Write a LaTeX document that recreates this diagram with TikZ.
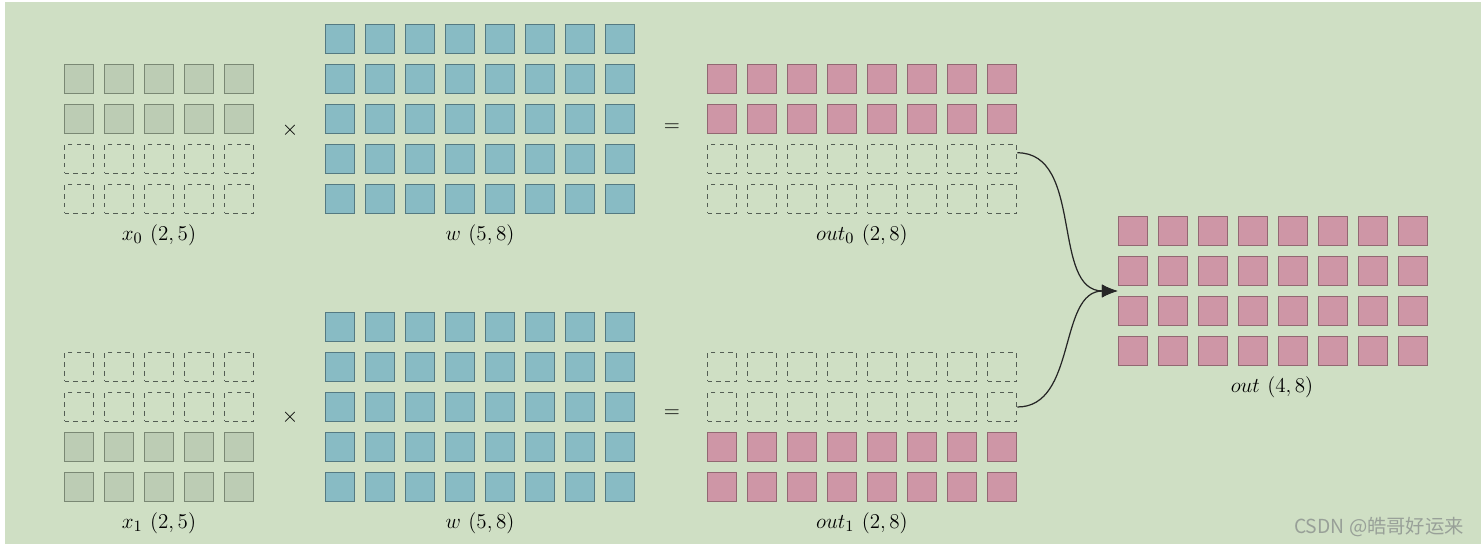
\documentclass[tikz,border=0pt]{standalone}
\usepackage{amsmath}
\usepackage{fontspec}
\usepackage{tikz}
\usetikzlibrary{arrows.meta,positioning,calc,backgrounds}
\newfontfamily\cjkfont{Noto Sans CJK SC}
\definecolor{bggreen}{RGB}{207,223,196}
\definecolor{xfill}{RGB}{188,204,180}
\definecolor{xline}{RGB}{122,136,116}
\definecolor{wfill}{RGB}{136,187,196}
\definecolor{wline}{RGB}{84,122,130}
\definecolor{ofill}{RGB}{206,150,166}
\definecolor{oline}{RGB}{146,104,114}
\definecolor{padline}{RGB}{84,94,84}
\definecolor{markgray}{RGB}{152,160,152}

\begin{document}
\begin{tikzpicture}[x=0.02cm, y=-0.02cm, >=Stealth,
			cell/.style={rectangle, minimum size=0.58cm, inner sep=0pt, line width=0.9pt},
			xcell/.style={cell, fill=xfill, draw=xline},
			wcell/.style={cell, fill=wfill, draw=wline},
			ocell/.style={cell, fill=ofill, draw=oline},
			padcell/.style={cell, draw=padline, line width=1pt, dash pattern=on 2.6pt off 2.4pt},
			dimlabel/.style={draw=none, inner sep=1pt, font=\fontsize{13}{15}\selectfont},
			opsign/.style={draw=none, inner sep=1pt, font=\fontsize{13}{15}\selectfont},
			joinLine/.style={line width=0.7pt, color=black!85, -{Latex[length=9pt, width=7.5pt]}, out=0, in=180}
			]
			\useasboundingbox (0,0) rectangle (1481,546);
			\fill[white] (0,0) rectangle (1481,546);
			\fill[bggreen] (5,2) rectangle (1481,544);
			
			% first product
			\foreach \c in {1,...,5} {
				\foreach \r in {1,2} \node[xcell](x0-\r-\c) at ({79+40*(\c-1)},{79+40*(\r-1)}) {};
				\foreach \r in {3,4} \node[padcell](x0-\r-\c) at ({79+40*(\c-1)},{79+40*(\r-1)}) {};
			}
			\foreach \c in {1,...,8} {
				\foreach \r in {1,...,5} \node[wcell](w0-\r-\c) at ({340+40*(\c-1)},{39+40*(\r-1)}) {};
				\foreach \r in {1,2} \node[ocell](o0-\r-\c) at ({722+40*(\c-1)},{79+40*(\r-1)}) {};
				\foreach \r in {3,4} \node[padcell](o0-\r-\c) at ({722+40*(\c-1)},{79+40*(\r-1)}) {};
			}
			\node[opsign](times0) at (290,130) {$\times$};
			\node[opsign](eq0) at (672,128) {$=$};
			\node[dimlabel](lx0) at (159,235) {$x_0\ (2,5)$};
			\node[dimlabel](lw0) at (480,235) {$w\ (5,8)$};
			\node[dimlabel](lo0) at (862,235) {$out_0\ (2,8)$};
			
			% second product
			\foreach \c in {1,...,5} {
				\foreach \r in {1,2} \node[padcell](x1-\r-\c) at ({79+40*(\c-1)},{367+40*(\r-1)}) {};
				\foreach \r in {3,4} \node[xcell](x1-\r-\c) at ({79+40*(\c-1)},{367+40*(\r-1)}) {};
			}
			\foreach \c in {1,...,8} {
				\foreach \r in {1,...,5} \node[wcell](w1-\r-\c) at ({340+40*(\c-1)},{327+40*(\r-1)}) {};
				\foreach \r in {1,2} \node[padcell](o1-\r-\c) at ({722+40*(\c-1)},{367+40*(\r-1)}) {};
				\foreach \r in {3,4} \node[ocell](o1-\r-\c) at ({722+40*(\c-1)},{367+40*(\r-1)}) {};
			}
			\node[opsign](times1) at (290,417) {$\times$};
			\node[opsign](eq1) at (672,414) {$=$};
			\node[dimlabel](lx1) at (159,523) {$x_1\ (2,5)$};
			\node[dimlabel](lw1) at (480,523) {$w\ (5,8)$};
			\node[dimlabel](lo1) at (862,523) {$out_1\ (2,8)$};
			
			% gathered result
			\foreach \c in {1,...,8}
				\foreach \r in {1,...,4} \node[ocell](out-\r-\c) at ({1133+40*(\c-1)},{231+40*(\r-1)}) {};
			\node[dimlabel](lout) at (1272,387) {$out\ (4,8)$};
			
			\coordinate (join) at ($(out-2-1.south west)!.5!(out-3-1.north west)$);
			\draw [joinLine] (o0-3-8.22) to (join);
			\draw [joinLine] (o1-2-8.east) to (join);
			
			\node[draw=none, text=markgray, font=\cjkfont\fontsize{11}{13}\selectfont](mark) at (1379,527) {CSDN @皓哥好运来};
\end{tikzpicture}
\end{document}
